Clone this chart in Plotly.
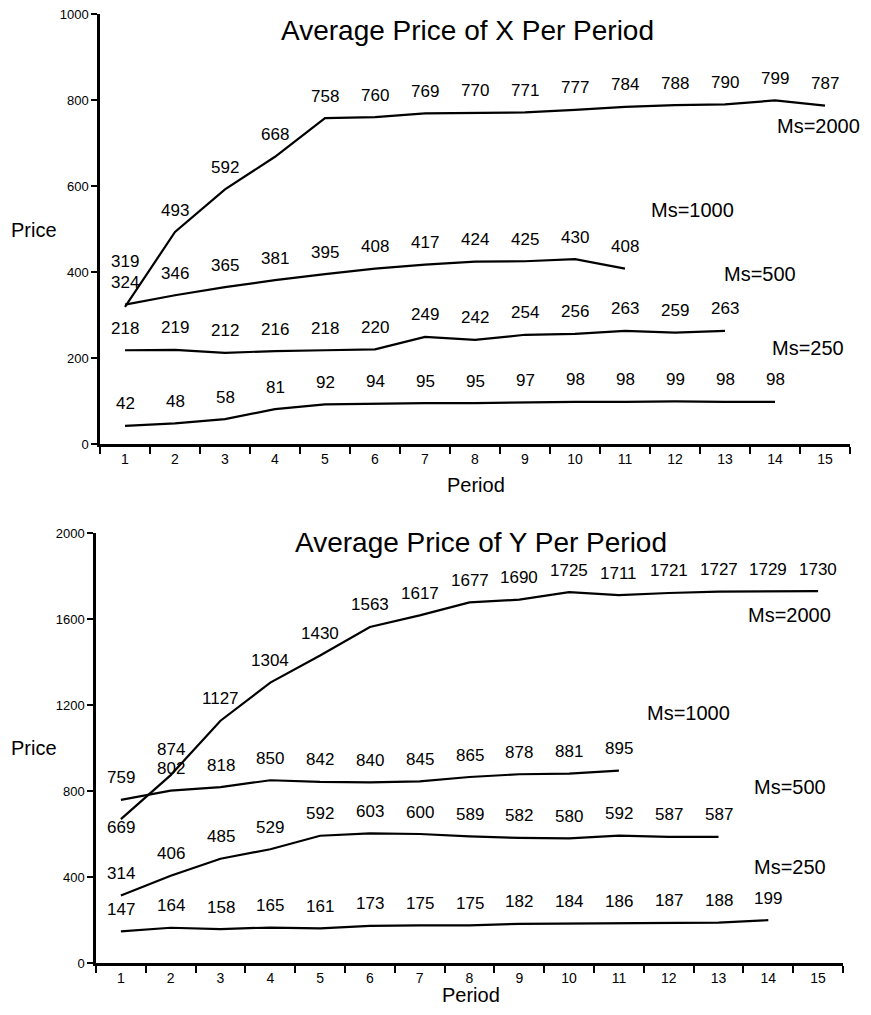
import plotly.graph_objects as go

W, H = 871, 1015
OFF = 8  # default page body margin
FW, FH = W - OFF, H - OFF

periods = list(range(1, 16))

# Average price of X per period
x_ms2000 = [319, 493, 592, 668, 758, 760, 769, 770, 771, 777, 784, 788, 790, 799, 787]
x_ms1000 = [324, 346, 365, 381, 395, 408, 417, 424, 425, 430, 408]
x_ms500 = [218, 219, 212, 216, 218, 220, 249, 242, 254, 256, 263, 259, 263]
x_ms250 = [42, 48, 58, 81, 92, 94, 95, 95, 97, 98, 98, 99, 98, 98]

# Average price of Y per period
y_ms2000 = [669, 874, 1127, 1304, 1430, 1563, 1617, 1677, 1690, 1725, 1711, 1721, 1727, 1729, 1730]
y_ms1000 = [759, 802, 818, 850, 842, 840, 845, 865, 878, 881, 895]
y_ms500 = [314, 406, 485, 529, 592, 603, 600, 589, 582, 580, 592, 587, 587]
y_ms250 = [147, 164, 158, 165, 161, 173, 175, 175, 182, 184, 186, 187, 188, 199]

series_names = ["Ms=2000", "Ms=1000", "Ms=500", "Ms=250"]
top_series = [x_ms2000, x_ms1000, x_ms500, x_ms250]
bot_series = [y_ms2000, y_ms1000, y_ms500, y_ms250]

FONT = "Arial, Liberation Sans, Helvetica, sans-serif"

def px_x(p):
    return (p - OFF) / FW

def px_y(p):
    return 1 - (p - OFF) / FH

fig = go.Figure()

for vals, name in zip(top_series, series_names):
    fig.add_trace(go.Scatter(x=periods[:len(vals)], y=vals, mode="lines", name=name,
                             line=dict(color="black", width=2.2), xaxis="x", yaxis="y",
                             showlegend=False))
for vals, name in zip(bot_series, series_names):
    fig.add_trace(go.Scatter(x=periods[:len(vals)], y=vals, mode="lines", name=name,
                             line=dict(color="black", width=2.2), xaxis="x2", yaxis="y2",
                             showlegend=False))

annotations = []

# value labels
special_shift = {("top", 0, 0): 45, ("bot", 0, 0): -8, ("bot", 0, 1): 26, ("bot", 1, 1): 22}
for tag, group, xr, yr in [("top", top_series, "x", "y"), ("bot", bot_series, "x2", "y2")]:
    for si, vals in enumerate(group):
        for pi, v in enumerate(vals):
            annotations.append(dict(x=periods[pi], y=v, xref=xr, yref=yr, text=str(v),
                                    showarrow=False, yshift=special_shift.get((tag, si, pi), 22),
                                    xanchor="center", yanchor="middle",
                                    font=dict(family=FONT, size=17, color="black")))

# series labels (page pixel positions)
top_lab_pos = [(818, 126), (692, 210), (760, 274), (808, 348)]
bot_lab_pos = [(789, 615), (688, 713), (790, 787), (790, 867)]
for name, (lx, ly) in zip(series_names, top_lab_pos):
    annotations.append(dict(x=px_x(lx), y=px_y(ly), xref="paper", yref="paper", text=name,
                            showarrow=False, xanchor="center", yanchor="middle",
                            font=dict(family=FONT, size=20, color="black")))
for name, (lx, ly) in zip(series_names, bot_lab_pos):
    annotations.append(dict(x=px_x(lx), y=px_y(ly), xref="paper", yref="paper", text=name,
                            showarrow=False, xanchor="center", yanchor="middle",
                            font=dict(family=FONT, size=20, color="black")))

# titles and axis titles
for txt, lx, ly, sz in [("Average Price of X Per Period", 468, 30, 28),
                        ("Average Price of Y Per Period", 481, 542, 28),
                        ("Price", 34, 230, 20), ("Price", 34, 748, 20),
                        ("Period", 476, 485, 20), ("Period", 471, 995, 20)]:
    annotations.append(dict(x=px_x(lx), y=px_y(ly), xref="paper", yref="paper", text=txt,
                            showarrow=False, xanchor="center", yanchor="middle",
                            font=dict(family=FONT, size=sz, color="black")))

def xaxis_cfg(domain, anchor):
    return dict(domain=domain, anchor=anchor, range=[0.5, 15.5], tickmode="array",
                tickvals=periods, ticktext=[str(p) for p in periods], ticks="",
                showline=True, linecolor="black", linewidth=2.5, showgrid=False, zeroline=False,
                tickfont=dict(family=FONT, size=14, color="black"), automargin=False,
                ticklabeloverflow="allow",
                minor=dict(tickmode="linear", tick0=0.5, dtick=1, ticks="outside", ticklen=7,
                           tickwidth=2, tickcolor="black", showgrid=False),
                fixedrange=True)

def yaxis_cfg(domain, anchor, rng, dtick):
    return dict(domain=domain, anchor=anchor, range=rng, dtick=dtick, ticks="outside",
                ticklen=6, tickwidth=2, tickcolor="black", showline=True, linecolor="black",
                linewidth=2.5, showgrid=False, zeroline=False, automargin=False,
                ticklabeloverflow="allow",
                tickfont=dict(family=FONT, size=13, color="black"), fixedrange=True)

fig.update_layout(
    width=FW, height=FH,
    margin=dict(l=0, r=0, t=0, b=0, autoexpand=False),
    paper_bgcolor="white", plot_bgcolor="white",
    xaxis=xaxis_cfg([px_x(100), px_x(850)], "y"),
    yaxis=yaxis_cfg([px_y(444), px_y(14)], "x", [0, 1000], 200),
    xaxis2=xaxis_cfg([px_x(96), px_x(843)], "y2"),
    yaxis2=yaxis_cfg([px_y(963), px_y(533)], "x2", [0, 2000], 400),
    annotations=annotations,
    showlegend=False,
)

fig.write_html("out.html")
